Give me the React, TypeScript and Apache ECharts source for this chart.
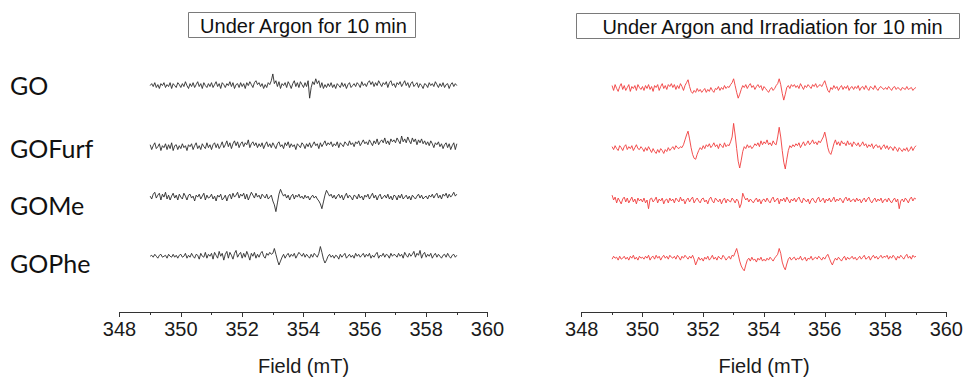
import { useEffect, useRef } from "react";
import * as echarts from "echarts";

// ---- data -------------------------------------------------------------
const sampleNames = ["GO", "GOFurf", "GOMe", "GOPhe"];
const fieldStart = 349; // mT, first sample of every spectrum
const fieldStep = 0.05; // mT between samples
const xTickMin = 348;
const xTickMax = 360;
const xTickStep = 2;

// EPR signal (arb. units), 201 samples from 349 to 359 mT
const argonGO = [
  0, 2, -1, 3, -2, 1, -3, 2, 0, 3, -2, 1, -1, 3, -3, 2, 0, -2, 3, 1,
  -2, 2, -1, 4, 0, -3, 2, -1, 3, -2, 1, 4, -1, 2, -3, 3, 0, -2, 2, -1,
  3, -2, 1, 4, -1, 2, -3, 3, 1, -2, 2, 0, 4, -1, 3, -3, 1, 2, -2, 3,
  -1, 2, -3, 3, 0, 4, 1, -2, 3, 5, 1, 3, -1, 2, -3, 1, -2, 3, 1, 5,
  12, 2, 5, -1, 4, -3, 2, 0, 3, -2, 4, 1, -3, 2, 5, -1, 3, -2, 4, 1,
  -2, 3, -1, 5, -13, -2, 4, 1, 7, 2, 5, -2, 3, -3, 1, -2, 2, -1, 3, -2,
  1, -3, 2, 0, -2, 3, -1, 2, -3, 1, 3, -2, 0, 2, -1, 3, 1, -2, 4, 0,
  2, -1, 3, 5, 1, 4, -1, 3, 0, 5, 2, -1, 3, 1, 4, -2, 3, 5, 0, 2,
  -2, 3, 1, 4, -1, 2, 5, 0, 3, -2, 2, 4, -1, 1, 3, -2, 2, 0, -3, 2,
  1, -2, 3, 0, 2, -1, 4, 1, -2, 2, -1, 3, -2, 1, 2, -3, 1, 3, -1, 2,
  0,
];
const argonGOFurf = [
  2, -3, 1, 4, -2, 0, 3, -4, 1, -1, 3, -3, 2, -2, 4, -4, 1, 2, -3, 1,
  -2, 3, -1, 1, -4, 2, 0, 3, -3, 1, 4, -2, 1, -3, 3, 0, -2, 4, -1, 2,
  -3, 2, 4, -1, 3, -2, 1, 5, -1, 2, 6, 0, 4, -2, 3, 6, 1, 5, -1, 3,
  5, 0, 4, 2, 7, -1, 3, 5, 1, 4, -1, 3, 0, 4, -2, 2, 5, 0, 3, -1,
  4, 1, -2, 3, 5, 0, 2, -2, 4, 1, 5, -1, 3, 0, 2, -3, 3, 1, -1, 4,
  2, -2, 3, 0, 4, -1, 2, 5, 1, 3, -2, 4, 0, 3, 6, 1, 4, 2, 5, 0,
  3, 1, 5, -1, 4, 2, 0, 5, 3, 1, 6, 2, 4, 0, 5, 3, 6, 1, 4, 7,
  3, 5, 2, 7, 4, 1, 6, 3, 8, 2, 5, 7, 4, 9, 3, 6, 2, 8, 5, 7,
  4, 9, 6, 3, 11, 5, 8, 4, 10, 6, 3, 9, 5, 8, 2, 7, 4, 8, 3, 6,
  2, 5, 1, 6, 3, -1, 4, 2, 5, 0, 3, -2, 2, 4, -1, 3, -3, 1, 4, -3,
  3,
];
const argonGOMe = [
  1, -2, 3, 5, -1, 2, 4, -3, 3, 0, 5, -2, 2, -3, 1, 4, -1, 2, -3, 3,
  0, -2, 4, 1, -3, 2, 3, -1, 1, -4, 2, 0, 3, -2, 1, 4, -3, 2, -1, 0,
  3, -2, 1, -4, 2, 0, 3, -3, -1, 2, -4, 1, 3, -2, 4, 0, 2, 5, -1, 3,
  1, 4, -2, 3, -3, 1, 5, 2, -1, 4, 0, 2, -2, 3, 1, -1, 3, -2, 0, 2,
  -4, -8, -15, -6, 3, 8, 4, 1, 3, -1, 2, -3, 1, 3, -2, 2, 0, 3, -1, 1,
  -2, 2, -1, 1, -3, 0, 2, -1, 1, -2, -4, -7, -12, -5, 2, 7, 4, 1, 3, -1,
  2, -2, 1, 3, -1, 2, -3, 1, 4, -1, 2, 0, -3, 2, 1, -2, 3, -1, 1, -3,
  2, 0, 3, -2, 1, 4, -1, 2, -3, 1, 3, -2, 0, 2, -1, 3, -2, 1, -3, 2,
  1, -3, 2, -1, 3, -2, 0, 2, -2, 1, -3, 2, 0, -2, 1, 3, -1, 2, -2, 0,
  1, -2, 2, 0, 3, -1, 2, 4, -1, 2, -2, 3, 1, 4, -1, 3, 0, 2, 5, 1,
  3,
];
const argonGOPhe = [
  0, 1, -1, 2, 0, -2, 1, 2, -1, 0, 1, -2, 2, 0, -1, 2, -1, 1, -2, 1,
  2, -1, 0, 3, -2, 1, -1, 3, 0, -2, 2, 1, -3, 3, 0, -1, 4, -2, 2, 0,
  3, -3, 4, 1, -2, 5, 0, 3, -4, 2, 5, -2, 4, 1, -3, 3, 6, -1, 2, 4,
  -2, 3, -1, 5, 1, -4, 3, 0, 4, -2, 2, -1, 3, 5, 0, -2, 3, 1, 4, 2,
  3, 8, 2, -4, -9, -5, -1, 2, -2, 1, 3, -1, 2, 0, 3, -2, 1, 4, 2, 0,
  3, -1, 2, 0, -2, 2, -1, 3, 1, -1, 3, 10, 4, -3, -7, -4, 0, 2, -1, 1,
  -2, 1, 0, -3, 2, -1, 1, 3, -2, 0, 2, -1, 1, -2, 3, 0, 2, -1, 1, 3,
  -1, 2, 0, 3, -2, 1, -1, 2, 4, -2, 1, 0, 3, -1, 2, 1, -2, 3, 0, 2,
  1, -1, 3, 0, 2, -2, 4, 1, -1, 3, 0, 2, 5, -1, 3, 1, 6, -2, 2, 4,
  -1, 2, 0, 3, -2, 1, 3, -1, 2, 0, -2, 1, 2, -1, 3, 0, -2, 1, 2, -1,
  1,
];

const irradGO = [
  3, -2, 4, 0, -3, 2, 5, -1, 3, -2, 1, 4, -3, 2, 0, 3, -2, 4, 1, -1,
  2, -2, 3, 0, 4, -1, 2, -3, 3, 1, 4, -2, 2, 5, 0, 3, -1, 4, 2, 5,
  1, 4, -1, 3, 0, 5, 2, -2, 3, 6, 9, 2, -3, -5, -2, -4, 0, -3, -1, -4,
  -2, 0, -4, -1, -3, 1, -2, -4, 0, -1, 2, -2, 1, -1, 3, 0, 2, 1, 4, 6,
  10, 3, -4, -10, -6, -1, 3, 1, 4, 0, 3, 5, 1, 3, -1, 2, 4, 1, 3, -2,
  2, 0, -2, -4, -1, 1, -2, 0, 3, 5, 10, 4, -5, -12, -6, 1, 3, 0, 4, 2,
  4, 1, 3, 0, 5, 2, -1, 3, 1, 4, 2, 0, 4, 2, 5, 1, 3, 4, 2, 5,
  8, 3, -2, -4, 1, -1, 3, 0, 2, -2, 1, 3, -1, 2, 0, 3, -2, 1, 2, -1,
  2, 0, 3, -2, 1, 2, -1, 3, 0, -2, 2, 1, -1, 3, 0, -2, 1, 2, 0, -1,
  1, -1, 2, 0, -2, 1, 2, -1, 1, 0, -2, 1, 0, -1, 2, -1, 0, 1, -2, 0,
  1,
];
const irradGOFurf = [
  2, -1, 3, 0, -2, 3, 1, -2, 2, 4, -1, 2, 0, 3, -2, 1, 4, 0, -1, 2,
  0, -3, 1, -2, 2, -1, -4, 0, -3, -5, -1, -4, 0, -2, -5, -1, -3, 1, -2, 0,
  2, -1, 3, 1, 0, 2, 1, 4, 9, 14, 18, 10, 1, -6, -10, -11, -6, -2, 1, -1,
  3, 0, 4, 2, 5, 1, 3, 6, 2, 4, 0, 5, 3, 1, 6, 2, 4, 3, 7, 12,
  26, 14, 0, -13, -20, -12, -3, 2, 0, 4, 1, 3, 0, 2, 5, 3, 6, 2, 8, 4,
  7, 5, 9, 4, 6, 3, 8, 5, 4, 12, 22, 12, -2, -14, -21, -11, -2, 3, 1, 4,
  2, 5, 3, 6, 1, 4, 7, 3, 5, 8, 4, 6, 9, 5, 7, 4, 8, 6, 9, 12,
  17, 10, 1, -4, -6, -1, 5, 9, 4, 7, 3, 8, 5, 6, 3, 8, 4, 6, 2, 7,
  5, 3, 6, 2, 4, 7, 3, 5, 1, 4, 2, 5, 0, 3, 4, 1, 3, -1, 2, 4,
  0, 3, -1, 2, 1, -2, 2, 0, -3, 1, -1, -3, 0, -2, 1, -3, -1, 2, -2, 1,
  3,
];
const irradGOMe = [
  6, 1, 4, -2, 3, 0, -3, 2, 4, -1, 3, -2, 1, 4, -1, 2, -3, 3, 0, 2,
  -1, 3, -2, 1, -8, 2, 3, -1, 1, 4, -2, 2, 0, 3, -3, 1, 2, -2, 3, 0,
  2, -2, 3, 1, -1, 4, 0, 2, -3, 1, 3, -1, 2, 4, -2, 1, 3, 0, -2, 2,
  3, -1, 1, -3, 2, 4, 0, -2, 3, 1, -1, 2, -3, 1, 3, -2, 2, 0, -1, 3,
  1, -2, 2, 0, -7, -3, 8, 4, 1, 3, -1, 2, 0, -2, 1, 3, -1, 2, -3, 1,
  2, -1, 3, 0, -2, 2, 4, -1, 1, 3, -3, 2, 0, 3, -1, 4, 1, -2, 2, 0,
  3, -1, 2, 4, 0, -2, 3, 1, -1, 2, -3, 1, 3, 0, -2, 2, 4, -1, 1, 3,
  -2, 2, 0, 3, -1, 1, 4, -1, 2, 0, 3, 1, -2, 2, 4, 0, 3, -1, 1, 2,
  -1, 3, 0, 2, -2, 1, 3, -1, 2, 4, 0, -2, 1, 3, -1, 2, 0, 3, -2, 1,
  2, -1, 3, 0, -2, 1, 3, -1, 2, -8, 0, 2, -1, 3, 1, -2, 2, 4, 0, 3,
  2,
];
const irradGOPhe = [
  -1, 2, 0, 1, -2, 2, -1, 0, 2, -1, 1, -2, 2, 0, 3, -1, 1, -2, 2, 0,
  1, -1, 2, 0, 3, -2, 1, 2, -1, 3, 0, 2, -2, 1, 3, 0, 2, -1, 3, 1,
  0, 2, -1, 3, 1, -2, 2, 0, 3, 1, -1, 2, 0, 3, -1, -7, -3, 1, -2, 0,
  -3, 1, -1, 2, -2, 0, 3, -1, 1, -2, 2, 0, -1, 3, 1, -2, 0, 2, -1, 3,
  2, 6, 10, 4, -3, -8, -11, -13, -7, -2, 0, -3, 1, -2, -1, -4, 0, -2, 1, -3,
  -1, -3, 0, -2, 1, -1, -3, 0, 2, 4, 10, 5, -4, -9, -12, -6, -1, 1, -2, 0,
  1, -2, 0, -1, 2, -2, -1, 1, -3, 0, -1, 2, -2, 0, 1, -1, 2, 0, -2, 1,
  -1, 2, 4, 0, -4, -7, -3, 0, -2, 1, -1, -3, 0, 2, -2, 1, -1, 0, 2, -1,
  1, -2, 0, 2, -1, 1, 3, -1, 0, 2, -2, 1, 3, 0, 2, -1, 1, 3, 0, 2,
  1, 3, -1, 2, 0, 3, 1, -2, 2, 0, 3, 1, -1, 2, 4, 0, 2, -1, 3, 1,
  2,
];

const panelTitles = ["Under Argon for 10 min", "Under Argon and Irradiation for 10 min"];
const argonTraces = [argonGO, argonGOFurf, argonGOMe, argonGOPhe];
const irradTraces = [irradGO, irradGOFurf, irradGOMe, irradGOPhe];

// ---- layout -----------------------------------------------------------
const W = 966;
const H = 381;
const AXIS_Y = 320.5;
const GRID_TOP = 40;
const PLOT_H = AXIS_Y - GRID_TOP;
const panelLayout = [
  { left: 119.5, width: 368, color: "#2b2b2b", baselines: [87, 150, 202, 263],
    box: { x: 188.5, y: 12.5, w: 227, h: 25 }, textX: 303.5 },
  { left: 581.7, width: 367.6, color: "#f03c3c", baselines: [90, 152, 206, 265],
    box: { x: 576.5, y: 13.5, w: 383, h: 25 }, textX: 772.5 },
];
const labelY = [85, 148, 205, 263];
const FONT = "'Liberation Sans', Arial, sans-serif";

export default function App() {
  const ref = useRef<HTMLDivElement>(null);
  useEffect(() => {
    if (!ref.current) return;
    const chart = echarts.init(ref.current, null, { renderer: "svg" });
    const traceSets = [argonTraces, irradTraces];

    const grids = panelLayout.map((p) => ({
      left: p.left, width: p.width, top: GRID_TOP, height: PLOT_H,
    }));
    const xAxes = panelLayout.map((_, i) => ({
      type: "value", gridIndex: i, min: xTickMin, max: xTickMax, interval: xTickStep,
      name: "Field (mT)", nameLocation: "middle", nameGap: 44,
      nameTextStyle: { fontSize: 20, color: "#1a1a1a", fontFamily: FONT },
      axisLine: { show: true, lineStyle: { color: "#333", width: 1 } },
      axisTick: { show: true, inside: false, length: 5, lineStyle: { color: "#333" } },
      minorTick: { show: true, splitNumber: 2, length: 3, lineStyle: { color: "#333" } },
      splitLine: { show: false },
      axisLabel: { fontSize: 20, color: "#1a1a1a", fontFamily: FONT, margin: 7 },
    }));
    const yAxes = panelLayout.map((_, i) => ({
      type: "value", gridIndex: i, min: 0, max: PLOT_H, show: false,
    }));
    const series: any[] = [];
    panelLayout.forEach((p, pi) => {
      traceSets[pi].forEach((vals, k) => {
        const offset = AXIS_Y - p.baselines[k];
        series.push({
          type: "line", name: sampleNames[k] + (pi ? " irr" : ""),
          xAxisIndex: pi, yAxisIndex: pi, showSymbol: false, symbol: "none",
          lineStyle: { color: p.color, width: 0.9 },
          data: vals.map((v, i) => [fieldStart + i * fieldStep, offset + v]),
          silent: true,
        });
      });
    });

    const graphic: any[] = [];
    panelLayout.forEach((p, pi) => {
      graphic.push({
        type: "rect",
        shape: { x: p.box.x, y: p.box.y, width: p.box.w, height: p.box.h },
        style: { fill: "#fff", stroke: "#7a7a7a", lineWidth: 1 },
        z: 10,
      });
      graphic.push({
        type: "text", x: p.textX, y: p.box.y + p.box.h / 2 + 0.5, z: 11,
        style: {
          text: panelTitles[pi], fontSize: 20, fill: "#111", fontFamily: FONT,
          align: "center", verticalAlign: "middle",
        },
      });
    });
    sampleNames.forEach((n, k) => {
      graphic.push({
        type: "text", x: 10, y: labelY[k], z: 11,
        style: {
          text: n, fontSize: 25, fill: "#111", fontFamily: "Lato, 'Open Sans', sans-serif",
          align: "left", verticalAlign: "middle",
        },
      });
    });

    chart.setOption({
      animation: false,
      backgroundColor: "#fff",
      grid: grids,
      xAxis: xAxes,
      yAxis: yAxes,
      series,
      graphic,
    });
    return () => chart.dispose();
  }, []);
  return (
    <div
      ref={ref}
      style={{ position: "fixed", left: 0, top: 0, width: W, height: H }}
    />
  );
}
